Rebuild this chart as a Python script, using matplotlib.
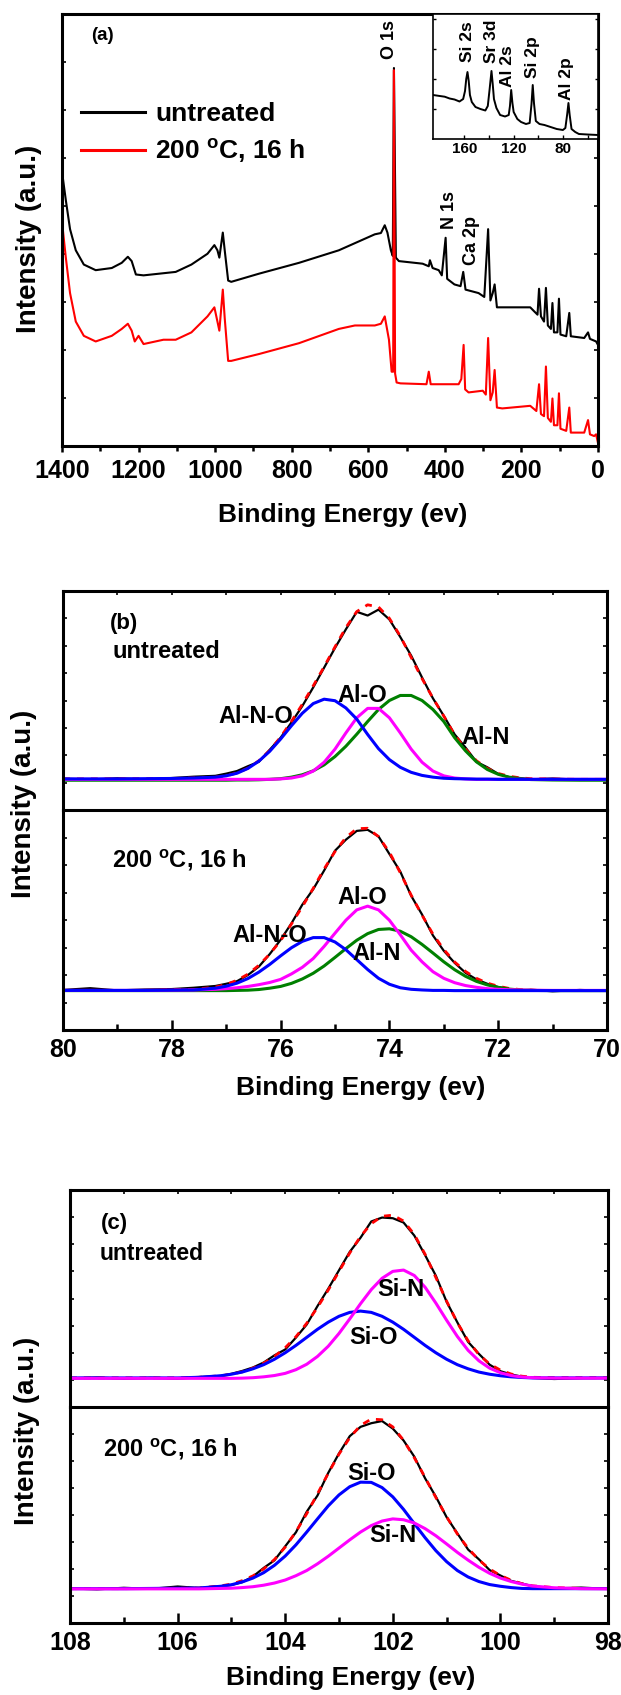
"""XPS survey + Al 2p / Si 2p fits, three stacked panels. Output: out.png"""

import matplotlib
matplotlib.use("Agg")
import matplotlib.pyplot as plt
from matplotlib.ticker import MultipleLocator, FixedLocator
import numpy as np

# ---------------- (a) survey spectra ----------------
be_black = [1400, 1390, 1379, 1364, 1343, 1312, 1270, 1244, 1228, 1218, 1207, 1187, 1145,
            1103, 1062, 1020, 1002, 994, 989, 980, 975, 966, 958, 885, 781, 677, 583, 567,
            557, 550, 541, 536, 533, 528, 520, 458, 442, 439, 432, 416, 408, 398, 394, 375,
            359, 352, 346, 312, 297, 287, 281, 275, 270, 264, 250, 177, 167, 158, 154, 149,
            141, 136, 131, 123, 119, 115, 106, 102, 98, 83, 75, 71, 36, 26, 21, 5, 0]
int_black = [63.5, 56.9, 50.2, 45.3, 42.0, 40.7, 41.2, 42.4, 43.8, 42.8, 39.7, 39.5, 39.9,
             40.3, 42.0, 44.5, 46.5, 45.3, 43.6, 49.4, 45.3, 38.3, 38.0, 39.9, 42.4, 45.3, 49.0, 49.3,
             51.1, 49.4, 45.3, 44.0, 87.5, 43.6, 42.8, 42.2, 41.6, 43.0, 41.2, 40.7, 39.5, 48.2, 38.7, 37.4,
             37.0, 40.3, 36.2, 35.4, 34.5, 50.2, 33.7, 35.4, 37.4, 32.1, 32.1, 32.1, 31.2, 30.4, 36.4, 30.0,
             28.8, 36.6, 27.9, 27.1, 33.1, 26.3, 26.3, 34.1, 25.8, 25.4, 30.8, 25.4, 25.0, 26.3, 24.8, 24.2, 23.4]

be_red = [1400, 1390, 1379, 1364, 1343, 1312, 1270, 1244, 1228, 1218, 1210, 1200, 1187, 1135,
          1103, 1062, 1020, 1002, 994, 989, 980, 975, 966, 958, 885, 781, 677, 635, 583, 567,
          557, 546, 539, 535, 533, 530, 526, 516, 448, 442, 437, 364, 357, 351, 347, 338, 301,
          293, 287, 281, 275, 270, 264, 250, 177, 161, 154, 149, 141, 136, 131, 123, 119, 115,
          106, 102, 98, 83, 75, 71, 36, 26, 21, 10, 5, 0]
int_red = [51.9, 43.6, 35.4, 28.8, 25.5, 24.2, 25.5, 27.1, 28.3, 26.7, 24.2, 25.5, 23.6, 24.6,
           24.6, 26.3, 30.0, 32.1, 28.8, 26.7, 36.2, 29.6, 19.7, 19.7, 21.3, 23.8, 27.1, 27.9, 27.9, 28.3,
           30.0, 24.6, 17.2, 17.2, 87.0, 16.8, 14.7, 14.5, 14.3, 17.2, 14.3, 14.3, 15.5, 23.4, 13.1, 12.4, 12.8,
           11.9, 25.0, 10.6, 12.4, 17.6, 8.9, 8.7, 9.3, 8.1, 14.3, 7.4, 6.9, 18.4, 6.5, 5.6, 11.0, 4.8,
           4.8, 12.2, 4.0, 3.5, 8.9, 3.1, 3.1, 6.0, 2.7, 2.3, 2.7, 0.7]

# inset (low binding energy region, untreated)
be_inset = [185.5, 180, 176, 172, 168, 164, 161, 159.5, 158.5, 157.5, 156.5, 155.5, 154, 151, 147,
            143, 141, 139.5, 138, 137, 136, 134, 131, 127, 124, 123, 122, 121, 120, 117, 114, 110,
            107, 105.5, 104.5, 103.5, 102, 99, 95, 90, 85, 80, 78, 76.5, 75.5, 74.5, 73, 70, 67,
            60, 51.5]
int_inset = [44, 43, 42.3, 40.5, 39.5, 37.5, 40, 48, 60, 67, 58, 44, 37, 32, 30,
             28.5, 33, 50, 68, 55, 40, 31, 24, 22.5, 24, 33, 49, 36, 27, 20, 17, 15,
             16, 35, 54, 36, 18, 15, 14, 12, 10, 9, 11, 25, 36, 24, 10, 7, 5,
             4.5, 4]
inset_peaks = ["Si 2s", "Sr 3d", "Al 2s", "Si 2p", "Al 2p"]

# ---------------- (b) Al 2p ----------------
be_b = [80.0, 79.5, 79.0, 78.5, 78.0, 77.6, 77.2, 77.0, 76.8, 76.6, 76.4, 76.2, 76.0, 75.8,
        75.6, 75.4, 75.2, 75.0, 74.8, 74.6, 74.4, 74.2, 74.0, 73.8, 73.6, 73.4, 73.2, 73.0,
        72.8, 72.6, 72.4, 72.2, 72.0, 71.8, 71.6, 71.4, 71.0, 70.5, 70.0]

b_un_raw = [14.3, 13.9, 14.5, 14.0, 14.6, 15.2, 15.6, 16.6, 17.8, 20.0, 22.0, 27.5, 33.0, 40.0,
            47.5, 56.0, 65.0, 74.0, 82.5, 90.5, 88.8, 91.5, 87.0, 79.0, 70.5, 60.5, 51.0, 43.0,
            34.5, 28.5, 22.0, 19.5, 16.5, 15.0, 14.6, 14.0, 14.4, 13.8, 14.1]
b_un_fit = [14.2, 14.2, 14.2, 14.3, 14.4, 14.6, 15.0, 15.6, 16.9, 19.1, 22.5, 27.2, 33.3, 40.5,
            48.3, 56.7, 65.4, 74.5, 83.3, 90.6, 93.7, 92.7, 87.5, 79.4, 69.7, 60.0, 51.1, 42.9,
            34.3, 27.8, 22.5, 19.0, 16.7, 15.4, 14.7, 14.3, 14.1, 14.0, 14.0]
b_un_alno = [14.2, 14.2, 14.2, 14.3, 14.4, 14.6, 15.0, 15.6, 16.8, 19.0, 22.3, 26.8, 32.4, 38.5,
             44.2, 48.6, 50.6, 49.9, 46.6, 41.5, 34.5, 28.0, 23.0, 19.5, 17.2, 15.8, 15.0, 14.5,
             14.3, 14.2, 14.1, 14.1, 14.0, 14.0, 14.0, 14.0, 14.0, 14.0, 14.0]
b_un_alo = [14.0, 14.0, 14.0, 14.0, 14.0, 14.0, 14.0, 14.0, 14.0, 14.0, 14.0, 14.0, 14.2, 14.6,
            15.6, 17.8, 21.8, 27.8, 35.2, 42.1, 46.4, 46.4, 42.1, 35.2, 27.8, 21.8, 17.8, 15.6,
            14.6, 14.2, 14.0, 14.0, 14.0, 14.0, 14.0, 14.0, 14.0, 14.0, 14.0]
b_un_aln = [13.6, 13.6, 13.6, 13.6, 13.6, 13.6, 13.6, 13.6, 13.7, 13.7, 13.8, 14.0, 14.3, 15.0,
            16.1, 17.9, 20.6, 24.4, 29.1, 34.6, 40.4, 45.9, 50.0, 52.3, 52.3, 50.0, 45.9, 40.4,
            33.0, 27.0, 22.0, 18.5, 16.3, 15.0, 14.3, 13.9, 13.7, 13.6, 13.6]

b_ht_raw = [18.2, 19.0, 18.0, 18.4, 18.6, 19.2, 20.0, 21.0, 22.2, 25.0, 28.8, 34.5, 41.0, 48.5,
            57.0, 64.0, 72.5, 81.5, 86.5, 90.5, 91.0, 88.0, 80.0, 72.0, 61.0, 52.5, 43.0, 36.0,
            30.5, 26.0, 23.0, 21.0, 19.5, 18.6, 18.0, 18.3, 17.6, 18.2, 17.8]
b_ht_fit = [18.0, 18.0, 18.0, 18.0, 18.2, 18.4, 19.5, 20.7, 22.6, 25.4, 29.4, 34.5, 40.6, 48.2,
            56.1, 64.4, 73.2, 81.1, 87.5, 91.5, 91.7, 87.9, 80.8, 71.5, 61.3, 52.2, 43.6, 36.6,
            30.9, 26.6, 23.5, 21.3, 19.9, 18.9, 18.4, 18.1, 17.9, 17.9, 17.9]
b_ht_alno = [18.0, 18.0, 18.0, 18.0, 18.1, 18.2, 19.0, 19.9, 21.3, 23.4, 26.3, 29.8, 33.7, 37.4,
             40.3, 42.0, 42.0, 40.0, 36.5, 32.0, 27.5, 23.5, 20.8, 19.2, 18.5, 18.2, 18.0, 18.0,
             17.9, 17.9, 17.9, 17.9, 17.9, 17.9, 17.9, 17.9, 17.9, 17.9, 17.9]
b_ht_alo = [18.0, 18.0, 18.0, 18.0, 18.1, 18.2, 18.5, 18.8, 19.2, 19.8, 20.6, 21.6, 23.0, 25.5,
            28.5, 32.5, 38.0, 44.0, 49.9, 54.6, 56.3, 54.6, 49.9, 43.3, 36.3, 31.0, 26.5, 23.5,
            21.5, 20.2, 19.4, 18.8, 18.5, 18.3, 18.2, 18.1, 18.0, 18.0, 18.0]
b_ht_aln = [17.9, 17.9, 17.9, 17.9, 17.9, 17.9, 17.9, 17.9, 18.0, 18.1, 18.4, 19.0, 19.8, 21.2,
            23.2, 25.8, 29.1, 33.0, 37.0, 40.8, 43.8, 45.7, 46.0, 44.9, 42.4, 38.9, 35.0, 31.0,
            27.4, 24.4, 22.1, 20.5, 19.4, 18.6, 18.2, 18.0, 17.9, 17.9, 17.9]

# ---------------- (c) Si 2p ----------------
be_c = [108.0, 107.5, 107.0, 106.5, 106.0, 105.6, 105.2, 105.0, 104.8, 104.6, 104.4, 104.2,
        104.0, 103.8, 103.6, 103.4, 103.2, 103.0, 102.8, 102.6, 102.4, 102.2, 102.0, 101.8,
        101.6, 101.4, 101.2, 101.0, 100.8, 100.6, 100.4, 100.2, 100.0, 99.8, 99.6, 99.4,
        99.0, 98.5, 98.0]

c_un_raw = [13.2, 13.6, 13.0, 13.5, 13.1, 13.8, 14.3, 15.3, 16.6, 18.2, 20.5, 23.8, 26.5, 32.0,
            38.0, 46.5, 54.5, 63.0, 71.5, 78.0, 85.5, 87.3, 87.0, 85.0, 79.0, 70.0, 60.5, 48.5,
            39.0, 30.0, 24.5, 19.5, 16.5, 15.0, 14.0, 13.4, 12.9, 13.3, 13.4]
c_un_fit = [13.4, 13.4, 13.4, 13.4, 13.4, 13.7, 14.4, 15.1, 16.2, 17.9, 20.2, 23.3, 27.3, 32.4,
            38.6, 45.9, 53.9, 62.5, 71.0, 78.6, 84.5, 87.9, 88.4, 85.7, 79.5, 70.4, 59.7, 48.8,
            38.8, 30.5, 24.2, 19.8, 17.0, 15.2, 14.2, 13.7, 13.5, 13.5, 13.5]
c_un_sio = [13.4, 13.4, 13.4, 13.4, 13.4, 13.7, 14.4, 15.1, 16.1, 17.6, 19.5, 22.0, 25.0, 28.4,
            32.1, 35.8, 39.1, 41.8, 43.6, 44.2, 43.6, 41.8, 39.1, 35.8, 32.1, 28.4, 25.0, 22.0,
            19.5, 17.6, 16.1, 15.1, 14.4, 13.9, 13.6, 13.4, 13.4, 13.4, 13.4]
c_un_sin = [13.2, 13.2, 13.2, 13.2, 13.2, 13.2, 13.2, 13.2, 13.3, 13.5, 13.9, 14.5, 15.5, 17.2,
            19.7, 23.3, 28.0, 33.9, 40.6, 47.6, 54.1, 59.3, 62.5, 63.1, 60.6, 55.2, 47.9, 40.0,
            32.5, 26.1, 21.3, 17.9, 15.8, 14.5, 13.8, 13.5, 13.3, 13.3, 13.3]

c_ht_raw = [16.0, 15.6, 16.3, 15.8, 16.9, 16.2, 17.0, 17.6, 18.9, 21.5, 25.5, 29.0, 35.5, 42.0,
            51.5, 59.0, 69.5, 78.5, 86.5, 90.8, 92.5, 93.5, 90.0, 84.5, 77.0, 67.0, 58.5, 49.0,
            41.5, 34.0, 29.5, 24.5, 22.0, 19.5, 18.3, 17.0, 16.0, 16.4, 15.8]
c_ht_fit = [15.9, 15.9, 15.9, 16.0, 16.1, 16.2, 17.2, 18.0, 19.6, 21.8, 25.0, 29.4, 35.1, 42.3,
            50.6, 59.8, 69.3, 78.2, 85.8, 91.5, 94.4, 94.1, 90.8, 84.6, 76.5, 67.4, 58.1, 49.2,
            41.2, 34.6, 29.2, 25.0, 22.0, 19.8, 18.2, 17.2, 16.4, 16.0, 15.9]
c_ht_sio = [15.9, 15.9, 15.9, 16.0, 16.1, 16.2, 17.0, 17.7, 19.0, 20.8, 23.3, 26.7, 31.0, 36.2,
            42.1, 48.2, 54.2, 59.3, 63.1, 65.2, 65.1, 62.7, 58.4, 52.6, 46.0, 39.5, 33.5, 28.4,
            24.3, 21.3, 19.2, 17.8, 17.0, 16.4, 16.0, 15.9, 15.9, 15.9, 15.9]
c_ht_sin = [15.8, 15.8, 15.8, 15.8, 15.8, 15.8, 16.0, 16.1, 16.4, 16.8, 17.5, 18.5, 19.9, 21.9,
            24.3, 27.4, 30.9, 34.7, 38.5, 42.1, 45.1, 47.2, 48.2, 47.8, 46.3, 43.7, 40.4, 36.6,
            32.7, 29.1, 25.8, 23.0, 20.8, 19.2, 18.0, 17.1, 16.3, 15.9, 15.8]

BLUE, MAGENTA, GREEN, RED = "#0000ff", "#ff00ff", "#008000", "#ff0000"
DEG = r"200 $^{\mathrm{o}}$C, 16 h"

plt.rcParams["font.family"] = ["Liberation Sans", "DejaVu Sans"]
plt.rcParams["font.weight"] = "bold"
plt.rcParams["mathtext.fontset"] = "custom"
plt.rcParams["mathtext.rm"] = "Liberation Sans:bold"
plt.rcParams["mathtext.it"] = "Liberation Sans:bold"
plt.rcParams["mathtext.bf"] = "Liberation Sans:bold"

W, H = 621, 1695
fig = plt.figure(figsize=(W / 100, H / 100), dpi=100)


def rect(l, t, r, b):
    return [l / W, 1 - b / H, (r - l) / W, (b - t) / H]


def ftext(x, y, s, **kw):
    kw.setdefault("fontweight", "bold")
    return fig.text(x / W, 1 - y / H, s, **kw)


def spines(ax, lw=2.2):
    for s in ax.spines.values():
        s.set_linewidth(lw)


# ---- panel (a) ----
axa = fig.add_axes(rect(62, 14, 598, 446))
axa.plot(be_black, int_black, color="k", lw=1.5, label="untreated")
axa.plot(be_red, int_red, color=RED, lw=1.5, label=DEG)
axa.set_xlim(1400, 0)
axa.set_ylim(0, 100)
axa.xaxis.set_major_locator(MultipleLocator(200))
axa.xaxis.set_minor_locator(MultipleLocator(100))
axa.yaxis.set_major_locator(FixedLocator(np.arange(1, 9) * 100 / 9))
axa.tick_params(axis="x", which="major", direction="out", length=4.5, width=1.8,
                labelsize=18, pad=5)
axa.tick_params(axis="x", which="minor", direction="out", length=3.6, width=1.8)
axa.tick_params(axis="y", direction="in", left=True, right=True, labelleft=False,
                length=3, width=1.2)
spines(axa)
axa.set_xlabel("Binding Energy (ev)", fontsize=19, fontweight="bold")
axa.xaxis.set_label_coords(0.524, -0.16)
axa.xaxis.label.set_va("center")
leg = axa.legend(loc="upper left", bbox_to_anchor=(0.036, 0.796), frameon=False,
                 fontsize=19, handlelength=2.4, handletextpad=0.4, labelspacing=0.42,
                 borderpad=0, borderaxespad=0)
for line in leg.get_lines():
    line.set_linewidth(2.2)
ftext(102, 36, "(a)", fontsize=13.5, ha="center", va="center")
for s, x, y in [("O 1s", 390, 59), ("N 1s", 450, 229), ("Ca 2p", 472, 265)]:
    ftext(x, y, s, fontsize=13, rotation=90, rotation_mode="anchor", ha="left", va="center")
ftext(29, 239, "Intensity (a.u.)", fontsize=20, rotation=90, ha="center", va="center")

# inset
axi = fig.add_axes(rect(433, 14, 598, 139))
axi.plot(be_inset, int_inset, color="k", lw=1.4)
axi.set_xlim(185.5, 51.5)
axi.set_ylim(0, 125)
axi.set_xticks([160, 120, 80])
axi.xaxis.set_minor_locator(FixedLocator([140, 100, 60]))
axi.yaxis.set_major_locator(FixedLocator([30, 60, 90, 120]))
axi.tick_params(axis="x", which="both", direction="in", length=3, width=1, labelsize=11, pad=2)
axi.tick_params(axis="y", direction="in", left=True, right=True, labelleft=False,
                length=2.5, width=1)
spines(axi, 1.2)
for s, x, y in zip(inset_peaks, [467, 491, 508, 533, 566], [62, 63, 87, 78, 100]):
    ftext(x, y, s, fontsize=12.5, rotation=90, rotation_mode="anchor", ha="left", va="center")


def fit_pair(top, bottom, xlim, xmajor, xlab_xy, ylab_xy):
    axu = fig.add_axes(rect(*top))
    axl = fig.add_axes(rect(*bottom))
    for ax in (axu, axl):
        ax.set_xlim(*xlim)
        ax.set_ylim(0, 100)
        ax.xaxis.set_major_locator(MultipleLocator(xmajor))
        ax.xaxis.set_minor_locator(MultipleLocator(xmajor / 2))
        ax.yaxis.set_major_locator(FixedLocator(np.arange(1, 8) * 12.5))
        ax.tick_params(axis="y", direction="in", left=True, right=True, labelleft=False,
                       length=3, width=1.2)
        spines(ax)
    axu.spines["bottom"].set_visible(False)
    axu.tick_params(axis="x", which="both", direction="in", bottom=False, top=True,
                    labelbottom=False, length=3, width=1.2)
    axl.tick_params(axis="x", which="major", direction="in", top=False, length=7,
                    width=1.8, labelsize=18, pad=6)
    axl.tick_params(axis="x", which="minor", direction="in", top=False, length=4.3, width=1.8)
    axl.set_xlabel("Binding Energy (ev)", fontsize=19, fontweight="bold")
    axl.xaxis.set_label_coords(*xlab_xy)
    axl.xaxis.label.set_va("center")
    ftext(*ylab_xy, "Intensity (a.u.)", fontsize=20, rotation=90, ha="center", va="center")
    return axu, axl


# ---- panel (b) ----
axb1, axb2 = fit_pair((63, 591, 607, 810), (63, 810, 607, 1030), (80, 70), 2,
                      (0.548, -0.264), (24, 804))
for ax, raw, fit, alno, alo, aln in [(axb1, b_un_raw, b_un_fit, b_un_alno, b_un_alo, b_un_aln),
                                     (axb2, b_ht_raw, b_ht_fit, b_ht_alno, b_ht_alo, b_ht_aln)]:
    ax.plot(be_b, raw, color="k", lw=1.6)
    ax.plot(be_b, fit, color=RED, lw=2, dashes=(2.5, 2.5))
    ax.plot(be_b, aln, color=GREEN, lw=2.2)
    ax.plot(be_b, alo, color=MAGENTA, lw=2.2)
    ax.plot(be_b, alno, color=BLUE, lw=2.2)

ftext(124, 623, "(b)", fontsize=16, ha="center", va="center")
ftext(112, 652, "untreated", fontsize=17, ha="left", va="center")
ftext(256, 716, "Al-N-O", fontsize=17, ha="center", va="center")
ftext(362, 696, "Al-O", fontsize=17, ha="center", va="center")
ftext(486, 737, "Al-N", fontsize=17, ha="center", va="center")
ftext(112, 860, DEG, fontsize=17, ha="left", va="center")
ftext(362, 897, "Al-O", fontsize=17, ha="center", va="center")
ftext(270, 936, "Al-N-O", fontsize=17, ha="center", va="center")
ftext(377, 954, "Al-N", fontsize=17, ha="center", va="center")

# ---- panel (c) ----
axc1, axc2 = fit_pair((70, 1190, 608, 1407), (70, 1407, 608, 1623), (108, 98), 2,
                      (0.522, -0.255), (27, 1431))
for ax, raw, fit, sio, sin in [(axc1, c_un_raw, c_un_fit, c_un_sio, c_un_sin),
                               (axc2, c_ht_raw, c_ht_fit, c_ht_sio, c_ht_sin)]:
    ax.plot(be_c, raw, color="k", lw=1.6)
    ax.plot(be_c, fit, color=RED, lw=2, dashes=(2.5, 2.5))
    ax.plot(be_c, sio, color=BLUE, lw=2.2)
    ax.plot(be_c, sin, color=MAGENTA, lw=2.2)

ftext(114, 1223, "(c)", fontsize=16, ha="center", va="center")
ftext(100, 1253, "untreated", fontsize=16.5, ha="left", va="center")
ftext(401, 1289, "Si-N", fontsize=17, ha="center", va="center")
ftext(374, 1337, "Si-O", fontsize=17, ha="center", va="center")
ftext(103, 1449, DEG, fontsize=17, ha="left", va="center")
ftext(372, 1473, "Si-O", fontsize=17, ha="center", va="center")
ftext(393, 1536, "Si-N", fontsize=17, ha="center", va="center")

fig.savefig("out.png", dpi=100)
